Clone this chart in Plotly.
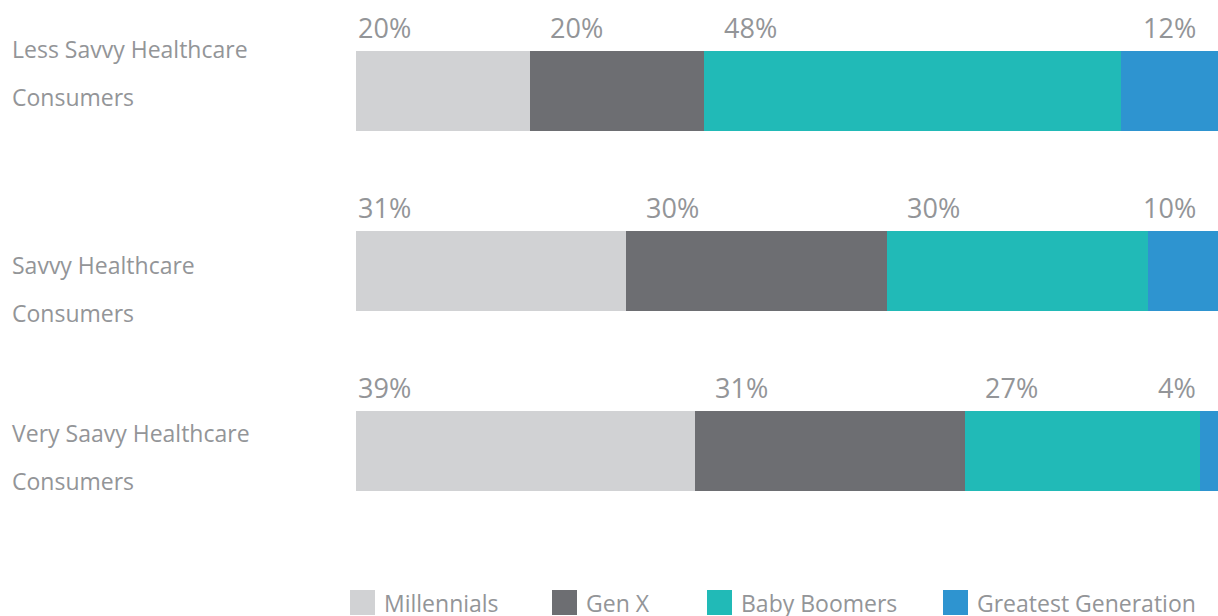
import plotly.graph_objects as go

categories = ["Less Savvy Healthcare Consumers",
              "Savvy Healthcare Consumers",
              "Very Saavy Healthcare Consumers"]
label_lines = [["Less Savvy Healthcare", "Consumers"],
               ["Savvy Healthcare", "Consumers"],
               ["Very Saavy Healthcare", "Consumers"]]
groups = ["Millennials", "Gen X", "Baby Boomers", "Greatest Generation"]
millennials = [20, 31, 39]
gen_x = [20, 30, 31]
boomers = [48, 30, 27]
greatest = [12, 10, 4]

colors = ["#d1d2d4", "#6d6e72", "#21bab7", "#2e94d0"]
TEXT = "#939598"
FONT = "Open Sans"

# page geometry (px) used to place the hand-made legend / labels
W, H = 1218, 616
ML, MT, MB = 356, 1, 75
PW, PH = W - ML, H - MT - MB


def px_x(px):
    return (px - ML) / PW


def px_y(py):
    return (H - MB - py) / PH


series = [millennials, gen_x, boomers, greatest]

fig = go.Figure()
for name, vals, col in zip(groups, series, colors):
    fig.add_trace(go.Bar(x=vals, y=categories, orientation="h", name=name,
                         marker=dict(color=col, line=dict(width=0)),
                         showlegend=False, hoverinfo="x+name"))

annotations = []
# percentage labels above each segment
for i, cat in enumerate(categories):
    start = 0
    for j, vals in enumerate(series):
        v = vals[i]
        txt = f"{v}%"
        if j == 0:
            annotations.append(dict(x=start, y=cat, text=txt, xanchor="left",
                                    yshift=64, xshift=0, showarrow=False))
        elif j == len(series) - 1:
            annotations.append(dict(x=1, xref="paper", y=cat, text=txt, xanchor="right",
                                    yshift=64, xshift=-20, showarrow=False))
        else:
            annotations.append(dict(x=start, y=cat, text=txt, xanchor="left",
                                    yshift=64, xshift=18, showarrow=False))
        start += v
for a in annotations:
    a["font"] = dict(size=27, color=TEXT, family=FONT)
    a["yanchor"] = "middle"

# category labels on the left, two lines each
top_shift = [42, 6, 18]
for i, cat in enumerate(categories):
    for k, line in enumerate(label_lines[i]):
        annotations.append(dict(x=px_x(10), xref="paper", y=cat, text=line,
                                xanchor="left", yanchor="middle",
                                yshift=top_shift[i] - 48 * k, showarrow=False,
                                font=dict(size=23, color=TEXT, family=FONT)))

# legend drawn below the chart
legend_px = [350, 552, 707, 943]
shapes = []
for name, col, lx in zip(groups, colors, legend_px):
    shapes.append(dict(type="rect", xref="paper", yref="paper",
                       x0=px_x(lx), x1=px_x(lx + 25), y0=px_y(615), y1=px_y(590),
                       fillcolor=col, line=dict(width=0)))
    annotations.append(dict(x=px_x(lx + 32), xref="paper", y=px_y(603), yref="paper",
                            text=name, xanchor="left", yanchor="middle", showarrow=False,
                            font=dict(size=23, color=TEXT, family=FONT)))

fig.update_layout(
    barmode="stack",
    bargap=1 - 80 / 180,
    width=W, height=H,
    margin=dict(l=ML, r=0, t=MT, b=MB, pad=0),
    plot_bgcolor="white", paper_bgcolor="white",
    xaxis=dict(range=[0, 99.1], visible=False, fixedrange=True),
    yaxis=dict(categoryorder="array", categoryarray=categories,
               range=[2.5, -0.5], visible=False, fixedrange=True),
    annotations=annotations,
    shapes=shapes,
    font=dict(family=FONT, color=TEXT),
)

fig.write_html("out.html", config={"displayModeBar": False},
               post_script="document.body.style.margin = '0';")
